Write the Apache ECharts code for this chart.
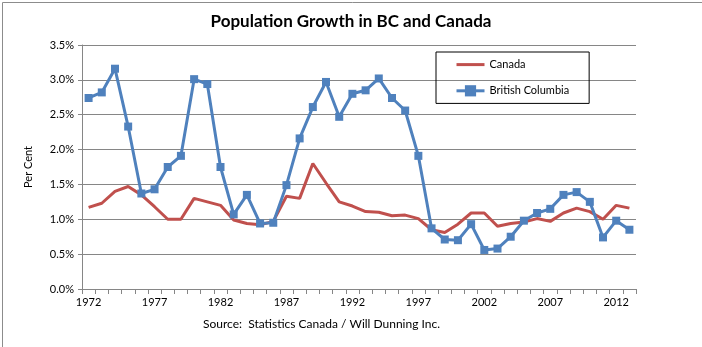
<!DOCTYPE html>
<html><head><meta charset="utf-8">
<script src="https://cdn.jsdelivr.net/npm/echarts@6/dist/echarts.min.js"></script>
<style>html,body{margin:0;padding:0;background:#fff}#c{width:702px;height:347px}</style>
</head><body><div id="c"></div>
<script>
const years = [];
for (let y = 1972; y <= 2013; y++) years.push(String(y));
const canada = [1.17,1.23,1.40,1.47,1.35,1.18,1.00,1.00,1.30,1.25,1.20,0.99,0.94,0.92,0.97,1.33,1.30,1.80,1.52,1.25,1.19,1.11,1.10,1.05,1.06,1.01,0.85,0.81,0.93,1.09,1.09,0.90,0.94,0.96,1.01,0.97,1.09,1.16,1.11,1.00,1.20,1.16];
const bc = [2.74,2.82,3.16,2.33,1.37,1.43,1.75,1.91,3.01,2.94,1.75,1.07,1.35,0.94,0.95,1.49,2.16,2.61,2.97,2.47,2.80,2.85,3.02,2.74,2.56,1.91,0.87,0.71,0.70,0.93,0.56,0.58,0.75,0.98,1.09,1.15,1.35,1.39,1.25,0.74,0.98,0.85];
const FONT = 'Lato';
const chart = echarts.init(document.getElementById('c'));
chart.setOption({
  animation: false,
  textStyle: {fontFamily: FONT},
  title: {text: 'Population Growth in BC and Canada', left: 'center', top: 8,
    textStyle: {fontFamily: FONT, fontSize: 17, fontWeight: 'bold', color: '#000'}},
  legend: {orient: 'vertical', left: 436, top: 52, padding: [7, 20, 7, 19], itemGap: 15,
    itemWidth: 28, itemHeight: 14, borderColor: '#000', borderWidth: 1,
    lineStyle: {width: 3},
    textStyle: {fontFamily: FONT, fontSize: 11, color: '#000'},
    data: [{name: 'Canada', itemStyle: {color: 'transparent', borderWidth: 0}}, 'British Columbia']},
  grid: {left: 82, right: 66, top: 45, bottom: 58},
  xAxis: {type: 'category', data: years, boundaryGap: true,
    axisLine: {lineStyle: {color: '#868686'}},
    axisTick: {show: true, interval: 0, length: 5, lineStyle: {color: '#868686'}},
    axisLabel: {interval: 4, color: '#000', fontSize: 11, margin: 8, fontFamily: FONT}},
  yAxis: {type: 'value', min: 0, max: 3.5, interval: 0.5, name: 'Per Cent',
    nameLocation: 'middle', nameGap: 48, nameRotate: 90,
    nameTextStyle: {fontFamily: FONT, fontSize: 11, color: '#000'},
    axisLine: {show: true, lineStyle: {color: '#868686'}},
    axisTick: {show: true, length: 4, lineStyle: {color: '#868686'}},
    splitLine: {lineStyle: {color: '#868686'}},
    axisLabel: {color: '#000', fontSize: 11, margin: 8, fontFamily: FONT,
      formatter: v => v.toFixed(1) + '%'}},
  graphic: [
    {type: 'rect', left: 0, top: 0, shape: {width: 701, height: 346},
      style: {fill: 'none', stroke: '#8c8c8c', lineWidth: 1}, silent: true},
    {type: 'text', left: 203, top: 318,
      style: {text: 'Source:  Statistics Canada / Will Dunning Inc.', fontFamily: FONT, fontSize: 12, fill: '#000'}}
  ],
  series: [
    {name: 'Canada', type: 'line', data: canada, symbol: 'none', color: '#C0504D',
      lineStyle: {width: 3, color: '#C0504D'}},
    {name: 'British Columbia', type: 'line', data: bc, symbol: 'rect', symbolSize: 8,
      color: '#4F81BD', lineStyle: {width: 3, color: '#4F81BD'}, itemStyle: {color: '#4F81BD'}}
  ]
});
</script></body></html>
